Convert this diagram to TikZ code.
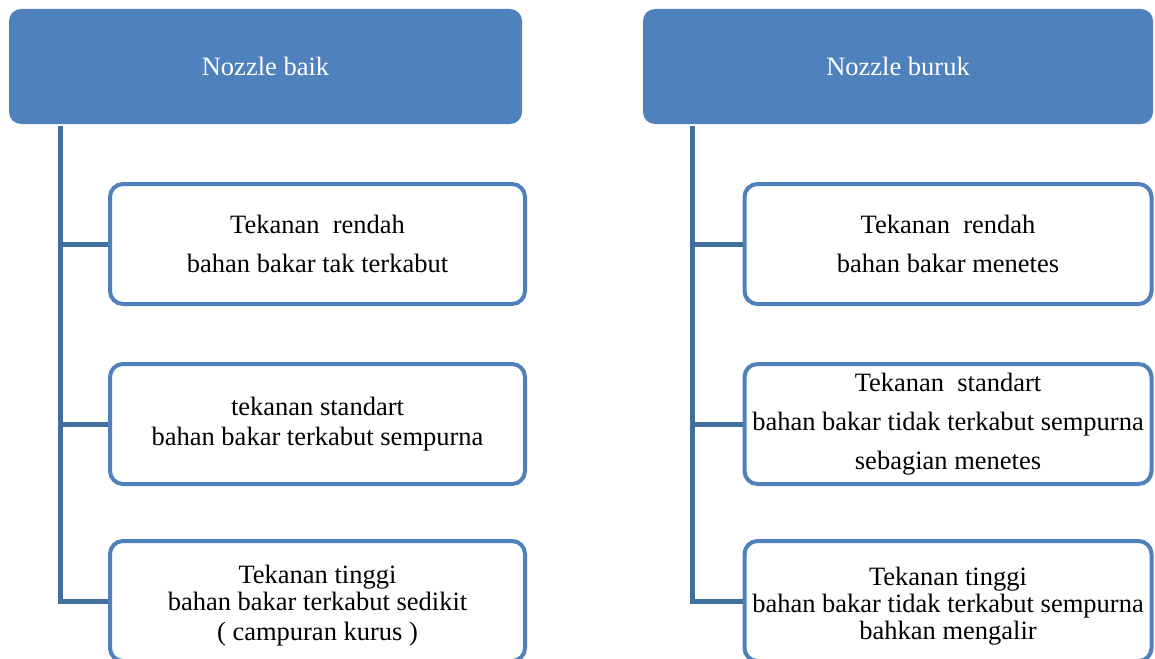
\documentclass[tikz,border=0pt]{standalone}
\usepackage{fontspec}
\setmainfont{Liberation Serif}
\begin{document}
\definecolor{hdrblue}{HTML}{4F81BD}
\definecolor{linkblue}{HTML}{41709F}
\begin{tikzpicture}[x=1pt,y=-1pt,
  header/.style={rectangle, rounded corners=12pt, fill=hdrblue, draw=none,
    minimum width=513pt, minimum height=115pt, text=white,
    font=\fontsize{26.5}{32}\selectfont},
  itembox/.style={rectangle, rounded corners=13pt, draw=hdrblue, line width=4pt,
    fill=white, minimum width=415pt, minimum height=120pt, align=center,
    font=\fontsize{26.5}{32}\selectfont, inner sep=2pt},
  conn/.style={draw=linkblue, line width=5pt, line join=miter}]
\clip (0,0) rectangle (1155,658);
\fill[white] (0,0) rectangle (1155,658);

% headers
\node[header] (hL) at (265.5,66.5) {Nozzle baik};
\node[header, minimum width=510pt] (hR) at (898,66.5) {Nozzle buruk};

% left column
\node[itembox] (l1) at (317.5,244) {Tekanan\ \ rendah\\[7pt]bahan bakar tak terkabut};
\node[itembox] (l2) at (317.5,424) {tekanan standart\\[-2pt]bahan bakar terkabut sempurna};
\node[itembox] (l3) at (317.5,601) {\rule{0pt}{28pt}Tekanan tinggi\\[-5pt]bahan bakar terkabut sedikit\\[-2pt]( campuran kurus )};

% right column
\node[itembox, minimum width=407pt] (r1) at (948,244) {Tekanan\ \ rendah\\[7pt]bahan bakar menetes};
\node[itembox, minimum width=407pt] (r2) at (948,424) {Tekanan\ \ standart\\[7pt]bahan bakar tidak terkabut sempurna\\[7pt]sebagian menetes};
\node[itembox, minimum width=407pt] (r3) at (948,601) {\rule{0pt}{28pt}Tekanan tinggi\\[-5pt]bahan bakar tidak terkabut sempurna\\[-5pt]bahkan mengalir};

% trunk lines
\coordinate (tL) at (60,126);
\coordinate (tR) at (692,126);
\draw[conn] (tL) |- (l3.west);
\draw[conn] (tL |- l1.west) -- (l1.west);
\draw[conn] (tL |- l2.west) -- (l2.west);
\draw[conn] (tR) |- (r3.west);
\draw[conn] (tR |- r1.west) -- (r1.west);
\draw[conn] (tR |- r2.west) -- (r2.west);
\end{tikzpicture}
\end{document}
